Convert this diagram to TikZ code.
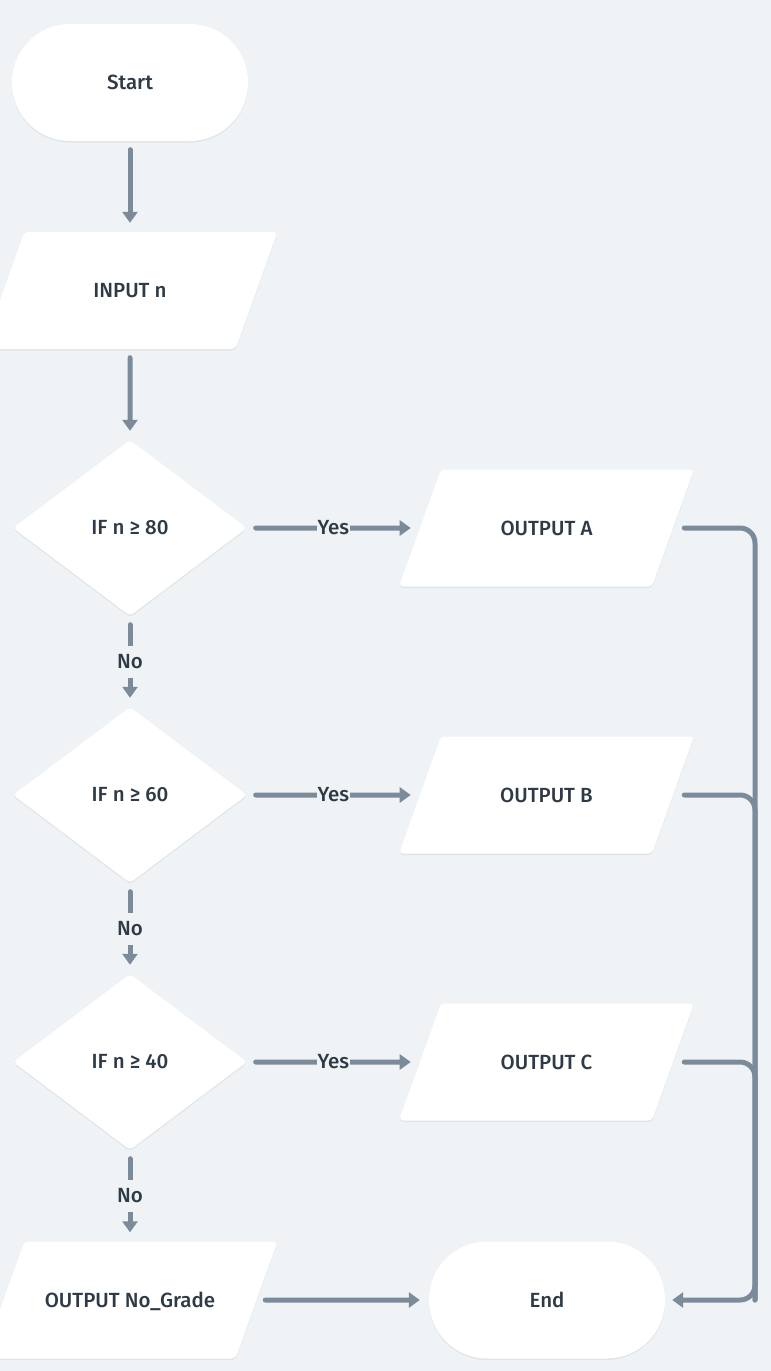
\documentclass[tikz,border=0pt]{standalone}
\usepackage{fontspec}
\setmainfont{Fira Sans}[UprightFont={* Medium}]
\usetikzlibrary{shapes.geometric,arrows.meta,shadows}
\definecolor{bg}{HTML}{EFF3F6}
\definecolor{ln}{HTML}{7B8B9A}
\definecolor{tx}{HTML}{2E3A46}
\begin{document}
\begin{tikzpicture}[x=1pt,y=-1pt,
  box/.style={fill=white, text=tx, font=\fontsize{20.5}{22}\selectfont, inner sep=0pt,
    drop shadow={shadow xshift=0pt, shadow yshift=-1.5pt, opacity=0.06, fill=black}},
  term/.style={box, rectangle, rounded corners=58pt, minimum width=236pt, minimum height=117pt},
  io/.style={box, trapezium, trapezium left angle=70.3, trapezium right angle=109.7,
    trapezium stretches body, minimum width=295pt, text height=14pt, text depth=0pt,
    inner ysep=51.5pt, rounded corners=4pt},
  dec/.style={box, diamond, minimum width=234pt, minimum height=176pt, rounded corners=4pt},
  conn/.style={draw=ln, line width=5pt, line cap=round,
    -{Triangle[width=15pt,length=11pt]}, shorten <=8.5pt, shorten >=9pt},
  rail/.style={draw=ln, line width=5pt, line cap=round, rounded corners=15pt},
  lab/.style={fill=bg, text=tx, font=\fontsize{20.5}{22}\selectfont, inner xsep=0.5pt, inner ysep=0pt, minimum height=32pt}
]
\fill[bg] (0,0) rectangle (771,1371);
\useasboundingbox (0,0) rectangle (771,1371);

\node[term] (start) at (130,82.5) {Start};
\node[io] (inp) at (130,290.5) {INPUT n};
\node[dec] (d1) at (130,528) {IF n ≥ 80};
\node[dec] (d2) at (130,795) {IF n ≥ 60};
\node[dec] (d3) at (130,1062) {IF n ≥ 40};
\node[io] (ng) at (130,1300) {OUTPUT No\_Grade};
\node[io] (oa) at (546.5,528) {OUTPUT A};
\node[io] (ob) at (546.5,795) {OUTPUT B};
\node[io] (oc) at (546.5,1062) {OUTPUT C};
\node[term] (end) at (547,1300) {End};
\coordinate (railx) at (755,0);

\draw[conn] (start) -- (inp);
\draw[conn] (inp) -- (d1);
\draw[conn] (d1) -- node[lab]{No} (d2);
\draw[conn] (d2) -- node[lab]{No} (d3);
\draw[conn] (d3) -- node[lab]{No} (ng);
\draw[conn] (d1) -- node[lab]{Yes} (oa);
\draw[conn] (d2) -- node[lab]{Yes} (ob);
\draw[conn] (d3) -- node[lab]{Yes} (oc);
\draw[conn] (ng) -- (end);

\draw[rail] ([xshift=11pt]ob.east) -| (railx |- end.east);
\draw[rail] ([xshift=11pt]oc.east) -| (railx |- end.east);
\draw[rail, -{Triangle[width=15pt,length=11pt]}] ([xshift=11pt]oa.east) -| (railx |- end.east) -- ([xshift=7pt]end.east);
\end{tikzpicture}
\end{document}
